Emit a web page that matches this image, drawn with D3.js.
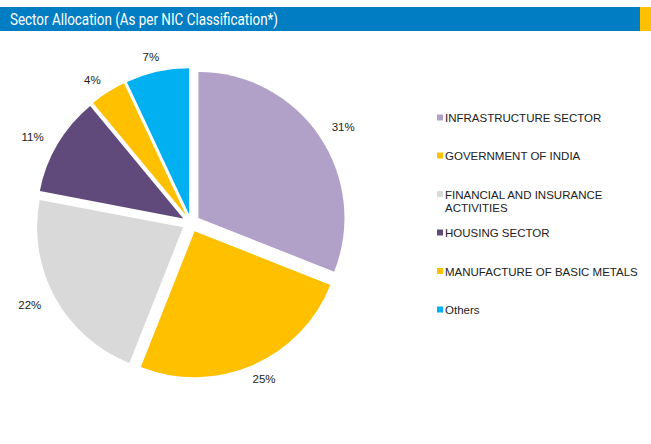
<!DOCTYPE html>
<html>
<head>
<meta charset="utf-8">
<script src="https://cdn.jsdelivr.net/npm/d3@7"></script>
<style>
  body { margin: 0; background: #fff; }
  svg { display: block; }
</style>
</head>
<body>
<script>
var WIDTH = 651,
    HEIGHT = 444;

// sector data, clockwise from 12 o'clock
var sectors = ["INFRASTRUCTURE SECTOR", "GOVERNMENT OF INDIA", "FINANCIAL AND INSURANCE ACTIVITIES",
               "HOUSING SECTOR", "MANUFACTURE OF BASIC METALS", "Others"];
var shares = [31, 25, 22, 11, 4, 7];
var colours = ["#B1A0C7", "#FFC000", "#D9D9D9", "#604A7B", "#FFC000", "#00B0F0"];
var legendLines = [["INFRASTRUCTURE SECTOR"], ["GOVERNMENT OF INDIA"], ["FINANCIAL AND INSURANCE", "ACTIVITIES"],
                   ["HOUSING SECTOR"], ["MANUFACTURE OF BASIC METALS"], ["Others"]];

var svg = d3.select("body").append("svg")
    .attr("width", WIDTH)
    .attr("height", HEIGHT);

// title bar
svg.append("rect").attr("x", 0).attr("y", 7).attr("width", 640).attr("height", 24).attr("fill", "#007DC3");
svg.append("rect").attr("x", 640).attr("y", 7).attr("width", 11).attr("height", 24).attr("fill", "#FFC000");
svg.append("text")
    .attr("x", 10).attr("y", 25)
    .attr("fill", "#fff")
    .style("font-family", "'Liberation Sans Narrow', 'Roboto', sans-serif")
    .style("font-size", "16px")
    .attr("textLength", 268)
    .attr("lengthAdjust", "spacingAndGlyphs")
    .text("Sector Allocation (As per NIC Classification*)");

var cx = 191, cy = 223, radius = 146, explode = 9;
var labelRx = 184, labelRy = 170; // labels sit a bit wider than tall

var pie = d3.pie().sort(null).value(function(d){ return d; });
var arc = d3.arc().innerRadius(0).outerRadius(radius);
var slices = pie(shares);

var g = svg.append("g").attr("transform", "translate(" + cx + "," + cy + ")");

g.selectAll("path.slice")
    .data(slices)
  .enter().append("path")
    .attr("class", "slice")
    .attr("d", arc)
    .attr("fill", function(d, i){ return colours[i]; })
    .attr("transform", function(d){
      var a = (d.startAngle + d.endAngle) / 2;
      return "translate(" + (explode * Math.sin(a)) + "," + (-explode * Math.cos(a)) + ")";
    });

g.selectAll("text.pct")
    .data(slices)
  .enter().append("text")
    .attr("class", "pct")
    .attr("x", function(d){ return labelRx * Math.sin((d.startAngle + d.endAngle) / 2); })
    .attr("y", function(d){ return -labelRy * Math.cos((d.startAngle + d.endAngle) / 2); })
    .attr("dy", "0.35em")
    .attr("text-anchor", "middle")
    .attr("fill", "#222")
    .style("font-family", "'Liberation Sans', Arial, sans-serif")
    .style("font-size", "11.5px")
    .text(function(d){ return d.data + "%"; });

// legend
var legendY = [118, 156, 194.5, 233, 271.5, 310];
var legend = svg.selectAll("g.leg")
    .data(sectors)
  .enter().append("g")
    .attr("class", "leg")
    .attr("transform", function(d, i){ return "translate(437," + legendY[i] + ")"; });

legend.append("rect")
    .attr("x", 0).attr("y", -3.5)
    .attr("width", 6).attr("height", 6)
    .attr("fill", function(d, i){ return colours[i]; });

legend.each(function(d, i){
  var t = d3.select(this).append("text")
      .attr("fill", "#222")
      .style("font-family", "'Liberation Sans', Arial, sans-serif")
      .style("font-size", "11.5px");
  legendLines[i].forEach(function(line, j){
    t.append("tspan").attr("x", 8).attr("y", j * 13.5).attr("dy", "0.35em").text(line);
  });
});
</script>
</body>
</html>
